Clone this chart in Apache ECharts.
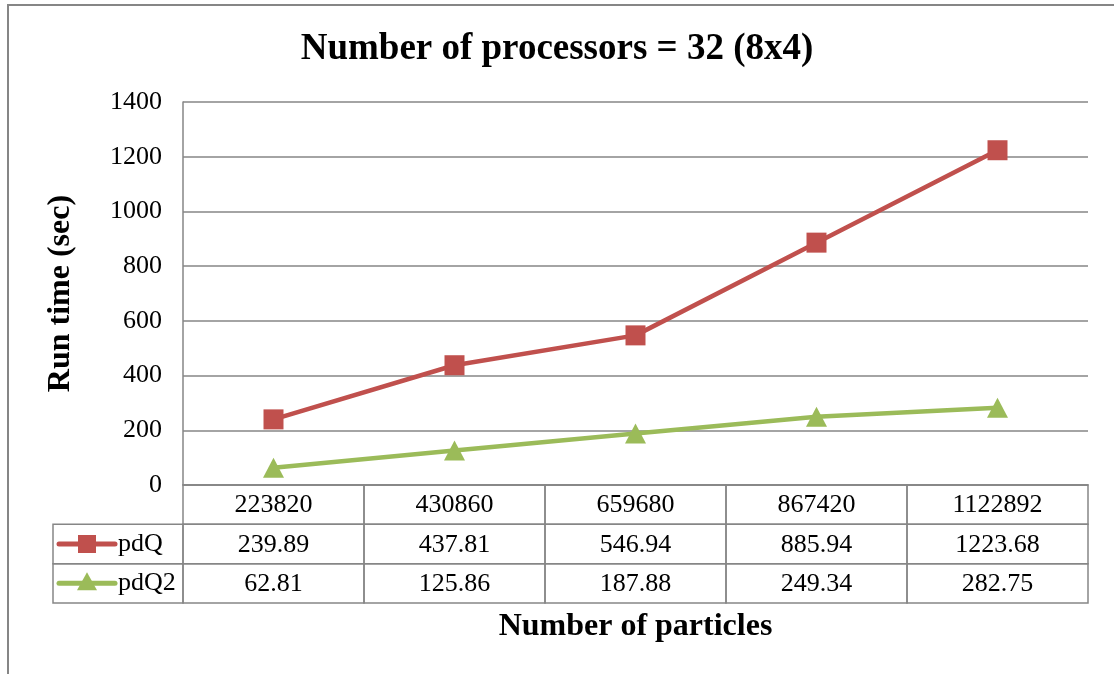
<!DOCTYPE html>
<html>
<head>
<meta charset="utf-8">
<script src="https://cdn.jsdelivr.net/npm/echarts@6/dist/echarts.min.js"></script>
<style>
  html, body { margin: 0; padding: 0; background: #fff; }
  #chart { width: 1114px; height: 674px; }
</style>
</head>
<body>
<div id="chart"></div>
<script>
// Particle counts (x categories) and run times in seconds
const categories = ['223820', '430860', '659680', '867420', '1122892'];
const pdQ = [239.89, 437.81, 546.94, 885.94, 1223.68];
const pdQ2 = [62.81, 125.86, 187.88, 249.34, 282.75];
const seriesNames = ['pdQ', 'pdQ2'];
const yTicks = { min: 0, max: 1400, interval: 200 };

const FONT = '"Liberation Serif", "Times New Roman", serif';
const GRID_GRAY = '#868686';
const RED = '#C0504D';
const GREEN = '#9BBB59';
const seriesColors = [RED, GREEN];

// Layout of plot area and data table underneath
const PLOT = { left: 183, right: 26, top: 102, bottom: 485 };
const TABLE_BOTTOM = 603;
const KEY_LEFT = 53;
const LINE_W = 4.5;

// Table cells: header row of categories, then one row per series
const tableRows = [categories, pdQ.map(v => v.toFixed(2)), pdQ2.map(v => v.toFixed(2))];
const tableData = [];
tableRows.forEach((row, r) => row.forEach((txt, c) => tableData.push([c, r, txt])));

// Small key glyph (line with marker) for a series row of the table
function keyGlyph(seriesIdx, cy) {
  const color = seriesColors[seriesIdx];
  const x1 = KEY_LEFT + 6, x2 = KEY_LEFT + 62, mx = (x1 + x2) / 2;
  const parts = [
    { type: 'line', shape: { x1: x1, y1: cy, x2: x2, y2: cy },
      style: { stroke: color, lineWidth: 5, lineCap: 'round' } }
  ];
  if (seriesIdx === 0) {
    parts.push({ type: 'rect', shape: { x: mx - 9, y: cy - 9, width: 18, height: 18 }, style: { fill: color } });
  } else {
    parts.push({ type: 'polygon', shape: { points: [[mx, cy - 11], [mx + 10, cy + 7], [mx - 10, cy + 7]] }, style: { fill: color } });
  }
  parts.push({
    type: 'text',
    style: { x: x2 + 3, y: cy, text: seriesNames[seriesIdx], font: '26px ' + FONT,
             fill: '#000', align: 'left', verticalAlign: 'middle' }
  });
  return parts;
}

const chart = echarts.init(document.getElementById('chart'), null, { renderer: 'canvas' });

chart.setOption({
  backgroundColor: '#fff',
  animation: false,
  textStyle: { fontFamily: FONT },
  title: {
    text: 'Number of processors = 32 (8x4)',
    left: 'center',
    top: 26,
    textStyle: { fontFamily: FONT, fontWeight: 'bold', fontSize: 37, color: '#000' }
  },
  legend: { show: false },
  grid: [
    { left: PLOT.left, right: PLOT.right, top: PLOT.top, height: PLOT.bottom - PLOT.top },
    { left: PLOT.left, right: PLOT.right, top: PLOT.bottom, height: TABLE_BOTTOM - PLOT.bottom }
  ],
  xAxis: [
    {
      type: 'category', gridIndex: 0, data: categories, boundaryGap: true,
      axisLine: { show: true, lineStyle: { color: GRID_GRAY, width: 1.5 } },
      axisTick: { show: false }, axisLabel: { show: false }, splitLine: { show: false }
    },
    {
      type: 'category', gridIndex: 1, data: categories, boundaryGap: true,
      axisLine: { show: false }, axisTick: { show: false }, axisLabel: { show: false },
      splitLine: { show: false },
      name: 'Number of particles', nameLocation: 'middle', nameGap: 8,
      nameTextStyle: { fontFamily: FONT, fontWeight: 'bold', fontSize: 32, color: '#000', verticalAlign: 'top' }
    }
  ],
  yAxis: [
    {
      type: 'value', gridIndex: 0, min: yTicks.min, max: yTicks.max, interval: yTicks.interval,
      axisLine: { show: true, lineStyle: { color: GRID_GRAY, width: 1.5 } },
      axisTick: { show: false },
      axisLabel: { fontFamily: FONT, fontSize: 26, color: '#000', margin: 21, formatter: v => String(v) },
      splitLine: { show: true, lineStyle: { color: GRID_GRAY, width: 1.5 } },
      name: 'Run time (sec)', nameLocation: 'middle', nameGap: 106,
      nameTextStyle: { fontFamily: FONT, fontWeight: 'bold', fontSize: 32, color: '#000' }
    },
    {
      type: 'category', gridIndex: 1, data: ['', seriesNames[0], seriesNames[1]], inverse: true,
      axisLine: { show: false }, axisTick: { show: false }, axisLabel: { show: false },
      splitLine: { show: false }
    }
  ],
  series: [
    {
      name: seriesNames[0], type: 'line', xAxisIndex: 0, yAxisIndex: 0, data: pdQ,
      symbol: 'rect', symbolSize: 20,
      lineStyle: { color: RED, width: LINE_W }, itemStyle: { color: RED }
    },
    {
      name: seriesNames[1], type: 'line', xAxisIndex: 0, yAxisIndex: 0, data: pdQ2,
      symbol: 'triangle', symbolSize: [21, 20],
      lineStyle: { color: GREEN, width: LINE_W }, itemStyle: { color: GREEN }
    },
    {
      // Data table: each cell is drawn at its category column and row
      type: 'custom', xAxisIndex: 1, yAxisIndex: 1, silent: true, clip: false,
      data: tableData,
      renderItem: function (params, api) {
        const c = api.value(0), r = api.value(1);
        const center = api.coord([c, r]);
        const size = api.size([1, 1]);
        const x0 = center[0] - size[0] / 2, y0 = center[1] - size[1] / 2;
        const stroke = { stroke: GRID_GRAY, lineWidth: 1.5, fill: null };
        let children = [
          { type: 'rect', shape: { x: x0, y: y0, width: size[0], height: size[1] }, style: stroke },
          {
            type: 'text',
            style: {
              x: center[0], y: center[1] + 1, text: tableRows[r][c],
              font: '26px ' + FONT, fill: '#000', align: 'center', verticalAlign: 'middle'
            }
          }
        ];
        if (c === 0 && r > 0) {
          // Series key cell to the left of the first column
          children.push({
            type: 'rect',
            shape: { x: KEY_LEFT, y: y0, width: x0 - KEY_LEFT, height: size[1] },
            style: stroke
          });
          children = children.concat(keyGlyph(r - 1, center[1]));
        }
        return { type: 'group', children: children };
      }
    }
  ],
  graphic: [
    {
      type: 'rect', silent: true, z: -1,
      shape: { x: 8, y: 5, width: 1200, height: 800 },
      style: { fill: null, stroke: GRID_GRAY, lineWidth: 2 }
    }
  ]
});
</script>
</body>
</html>
